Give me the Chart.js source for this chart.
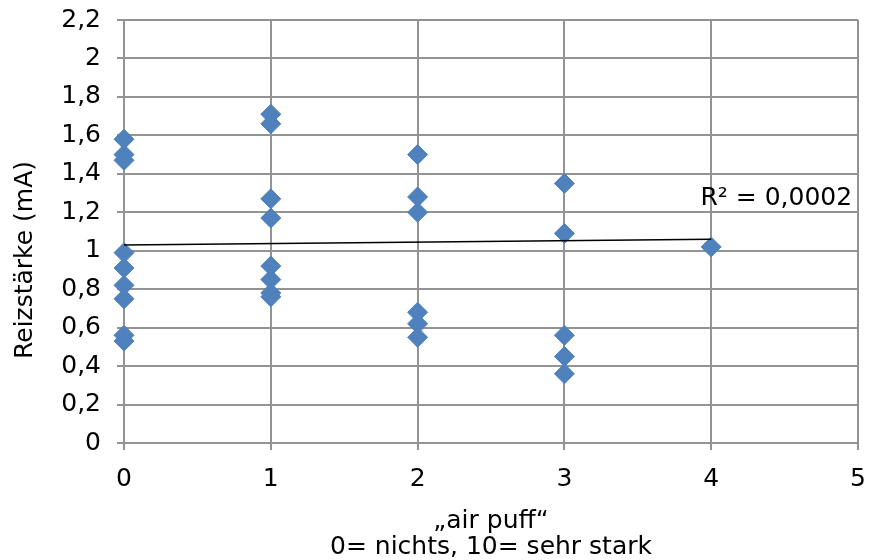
<!DOCTYPE html>
<html lang="de">
<head>
    <meta charset="UTF-8">
    <title>Reizstärke vs air puff</title>
    <script src="https://cdn.jsdelivr.net/npm/chart.js"></script>
    <style>
        html, body { margin: 0; padding: 0; background: #fff; }
        #wrap { width: 869px; height: 560px; }
    </style>
</head>
<body>
    <div id="wrap"><canvas id="chart"></canvas></div>

    <script>
        // air puff rating (x) and stimulus strength in mA (y)
        const puffX = [0, 0, 0, 0, 0, 0, 0, 0, 0,
                       1, 1, 1, 1, 1, 1, 1, 1,
                       2, 2, 2, 2, 2, 2,
                       3, 3, 3, 3, 3,
                       4];
        const reizY = [1.58, 1.50, 1.47, 0.99, 0.91, 0.82, 0.75, 0.56, 0.53,
                       1.71, 1.66, 1.27, 1.17, 0.92, 0.85, 0.78, 0.76,
                       1.50, 1.28, 1.20, 0.68, 0.62, 0.55,
                       1.35, 1.09, 0.56, 0.45, 0.36,
                       1.02];

        // linear trendline as drawn in the picture
        const trendX = [0, 4];
        const trendY = [1.03, 1.06];
        const rSquared = 'R² = 0,0002';
        const yTitle = 'Reizstärke (mA)';

        const yTickLabels = ['0', '0,2', '0,4', '0,6', '0,8', '1', '1,2', '1,4', '1,6', '1,8', '2', '2,2'];
        const xTickLabels = ['0', '1', '2', '3', '4', '5'];

        const FONT = 'DejaVu Sans, Liberation Sans, Arial, sans-serif';
        const FS = 25;
        const GRID = '#939393';

        // R² text and the y axis title (Excel puts it a bit below the plot centre)
        const labels = {
            id: 'labels',
            afterDatasetsDraw(chart) {
                const ctx = chart.ctx;
                const x = chart.scales.x.getPixelForValue(4.96);
                const y = chart.scales.y.getPixelForValue(1.27);
                ctx.save();
                ctx.font = FS + 'px ' + FONT;
                ctx.fillStyle = '#000';
                ctx.textAlign = 'right';
                ctx.textBaseline = 'middle';
                ctx.fillText(rSquared, x, y);

                ctx.translate(25, 260);
                ctx.rotate(-Math.PI / 2);
                ctx.textAlign = 'center';
                ctx.fillText(yTitle, 0, 0);
                ctx.restore();
            }
        };

        new Chart(document.getElementById('chart'), {
            type: 'scatter',
            data: {
                datasets: [
                    {
                        type: 'line',
                        label: 'Trend',
                        data: trendX.map((x, i) => ({ x: x, y: trendY[i] })),
                        borderColor: '#000',
                        borderWidth: 1.5,
                        pointRadius: 0,
                        fill: false
                    },
                    {
                        label: 'Reizstärke',
                        data: puffX.map((x, i) => ({ x: x, y: reizY[i] })),
                        pointStyle: 'rectRot',
                        pointRadius: 10,
                        backgroundColor: '#4F81BD',
                        borderColor: '#4F81BD',
                        borderWidth: 1,
                        clip: false
                    }
                ]
            },
            options: {
                responsive: true,
                maintainAspectRatio: false,
                animation: false,
                layout: { padding: { top: 20, right: 10, left: 0, bottom: 0 } },
                plugins: {
                    legend: { display: false },
                    tooltip: { enabled: false }
                },
                scales: {
                    x: {
                        type: 'linear',
                        min: 0,
                        max: 5,
                        ticks: {
                            stepSize: 1,
                            padding: 14,
                            color: '#000',
                            font: { family: FONT, size: FS },
                            callback: (v, i) => xTickLabels[i]
                        },
                        grid: { color: GRID, lineWidth: 2, tickLength: 7 },
                        border: { color: GRID, width: 2 },
                        title: {
                            display: true,
                            text: ['„air puff“', '0= nichts, 10= sehr stark'],
                            color: '#000',
                            font: { family: FONT, size: FS, lineHeight: 26 / FS },
                            padding: { top: 0, bottom: 0 }
                        },
                        afterFit(scale) {
                            scale.height = 117;
                            scale.paddingLeft = 0;
                            scale.paddingRight = 0;
                        }
                    },
                    y: {
                        min: 0,
                        max: 2.2,
                        ticks: {
                            stepSize: 0.2,
                            padding: 16,
                            color: '#000',
                            font: { family: FONT, size: FS },
                            callback: (v, i) => yTickLabels[i]
                        },
                        grid: { color: GRID, lineWidth: 2, tickLength: 7 },
                        border: { color: GRID, width: 2 },
                        afterFit(scale) {
                            scale.width = 124;
                            scale.paddingTop = 0;
                            scale.paddingBottom = 0;
                        }
                    }
                }
            },
            plugins: [labels]
        });
    </script>
</body>
</html>
